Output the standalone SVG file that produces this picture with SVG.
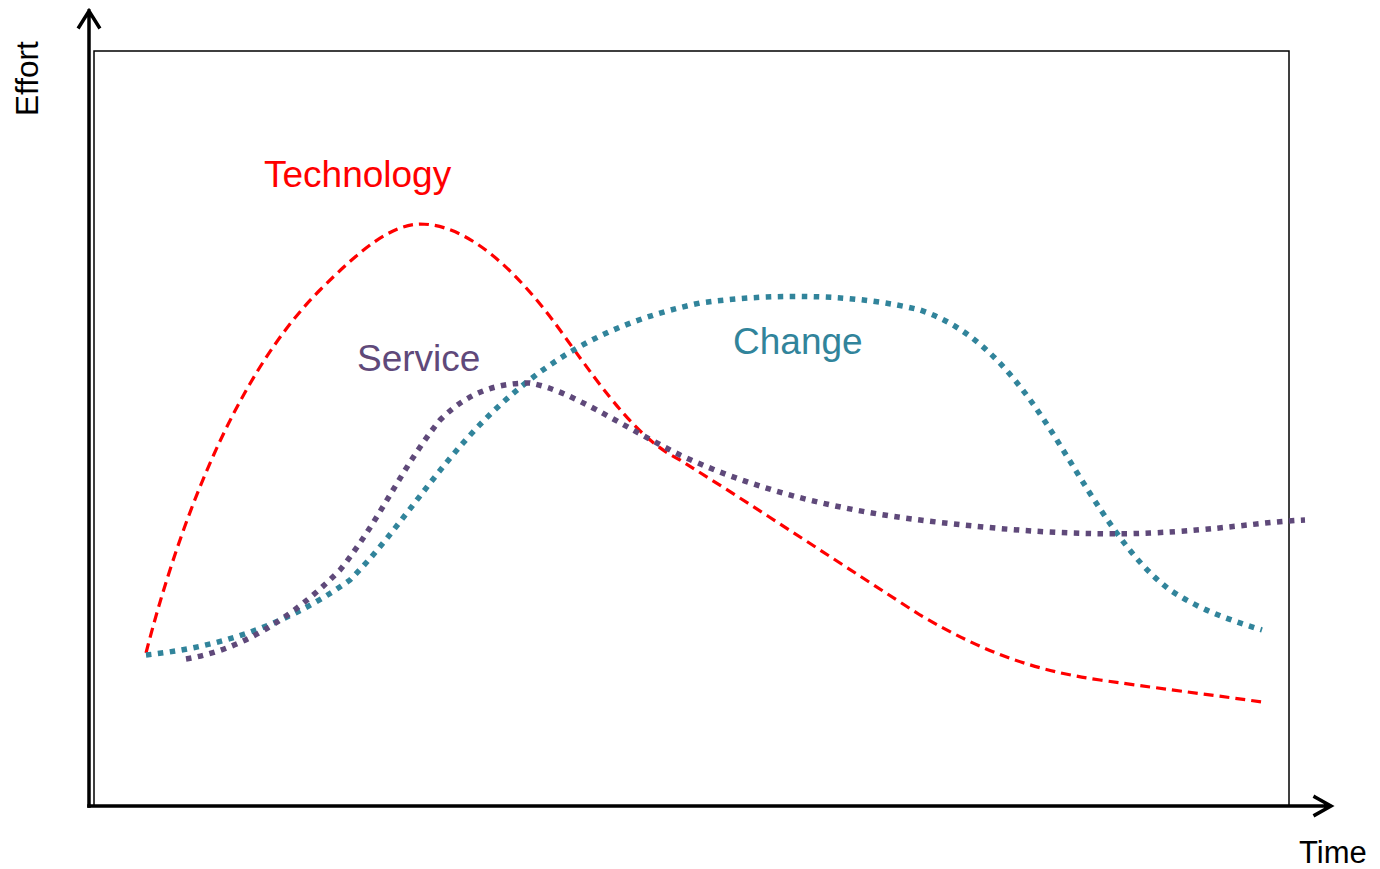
<svg xmlns="http://www.w3.org/2000/svg" width="1380" height="869" viewBox="0 0 1380 869">
<style>
.lbl{font-family:"Liberation Sans",Arial,sans-serif;font-size:37px}
.ax{fill:none;stroke:#000;stroke-width:3.5;stroke-linecap:square}
.tech{fill:none;stroke:#FF0000;stroke-width:3.2;stroke-dasharray:10 6}
.dot{fill:none;stroke-width:5.5;stroke-dasharray:5.5 6.5}
</style>
<rect width="1380" height="869" fill="#fff"/>
<g id="frame"><rect x="94" y="51" width="1195" height="755" fill="none" stroke="#000" stroke-width="1.5"/></g>
<g id="axes">
<path class="ax" d="M89,806 V11 M79,27 L89,11 L99,27"/>
<path class="ax" d="M89,806 H1330 M1315,797 L1331,806 L1315,815"/>
<text class="lbl" style="font-size:31.5px" transform="translate(38,116) rotate(-90)">Effort</text>
<text class="lbl" style="font-size:31px" x="1299" y="863">Time</text>
</g>
<g id="connectors">
<path id="technology" class="tech" d="M146,653 C175,540 230,380 320,290 C360,250 390,225 420,224 C470,224 520,275 560,330 C610,400 640,440 680,460 C760,510 850,570 920,615 C980,650 1030,670 1100,680 C1170,690 1220,696 1262,702"/>
<path id="change" class="dot" stroke="#31849B" d="M146,655 C210,648 280,630 350,580 C400,530 440,460 500,405 C560,350 620,320 700,303 C780,292 860,295 920,310 C980,330 1020,380 1060,445 C1100,510 1130,560 1170,590 C1200,610 1230,620 1262,630"/>
<path id="service" class="dot" stroke="#5F497A" d="M186,659 C240,650 290,620 340,570 C380,520 400,470 440,420 C470,390 500,383 530,383 C570,390 620,425 680,455 C760,492 840,510 920,520 C1000,530 1080,536 1150,533 C1220,530 1260,522 1305,520"/>
</g>
<g id="labels">
<text class="lbl" fill="#FF0000" x="264" y="187">Technology</text>
<text class="lbl" fill="#5F497A" x="357" y="371">Service</text>
<text class="lbl" fill="#31849B" x="733" y="354">Change</text>
</g>
</svg>
